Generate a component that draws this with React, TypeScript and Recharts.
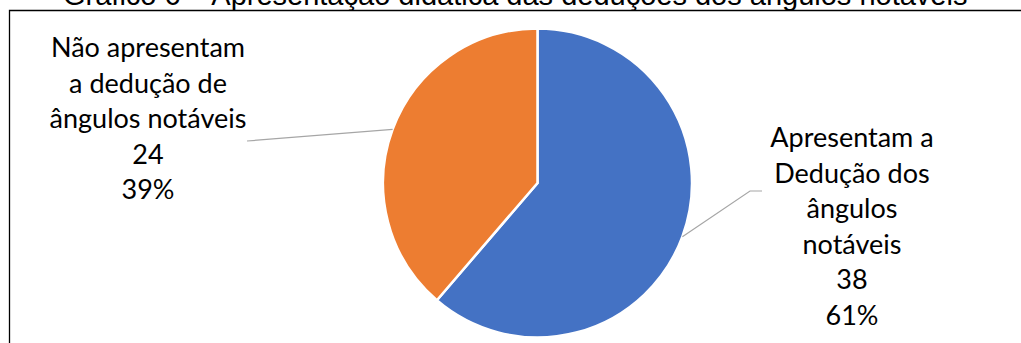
import { PieChart, Pie, Cell } from "recharts";

const categories = [
  "Apresentam a\nDedução dos\nângulos\nnotáveis",
  "Não apresentam\na dedução de\nângulos notáveis",
];
const counts = [38, 24];
const colors = ["#4472C4", "#ED7D31"];
const title = "Gráfico 6 – Apresentação didática das deduções dos ângulos notáveis";

const data = categories.map((name, i) => ({ name, value: counts[i] }));

const RAD = Math.PI / 180;
const LINE_GAP = 35.6;

// where each label block sits and where its leader line ends
const labelLayout = [
  { x: 852, y: 147, path: [[750, 191], [762, 191]] },
  { x: 148, y: 57, path: [[247, 141]] },
];

function renderLabel(props: any) {
  const { cx, cy, midAngle, outerRadius, index, name, value, percent } = props;
  const lay = labelLayout[index];
  const ex = cx + outerRadius * Math.cos(-midAngle * RAD);
  const ey = cy + outerRadius * Math.sin(-midAngle * RAD);
  const pts = [[ex, ey], ...lay.path].map((p) => p.join(",")).join(" ");
  const lines = [...String(name).split("\n"), String(value), `${Math.round(percent * 100)}%`];
  return (
    <g key={`lbl-${index}`}>
      <polyline points={pts} fill="none" stroke="#A6A6A6" strokeWidth={1.2} />
      <text textAnchor="middle" fill="#000" fontFamily="Lato, 'Open Sans', sans-serif" fontSize={27}>
        {lines.map((l, i) => (
          <tspan key={i} x={lay.x} y={lay.y + i * LINE_GAP}>
            {l}
          </tspan>
        ))}
      </text>
    </g>
  );
}

export default function App() {
  return (
    <div style={{ position: "absolute", left: 0, top: 0, width: 1021, height: 343, background: "#fff", overflow: "hidden" }}>
      <PieChart width={1021} height={343} margin={{ top: 0, right: 0, bottom: 0, left: 0 }}>
        <Pie
          data={data}
          dataKey="value"
          nameKey="name"
          cx={537.5}
          cy={183}
          outerRadius={154.5}
          startAngle={90}
          endAngle={-270}
          stroke="#fff"
          strokeWidth={2.5}
          label={renderLabel}
          labelLine={false}
          isAnimationActive={false}
        >
          {data.map((d, i) => (
            <Cell key={d.name} fill={colors[i]} />
          ))}
        </Pie>
      </PieChart>
      <svg width={1021} height={343} style={{ position: "absolute", left: 0, top: 0, pointerEvents: "none" }}>
        <text x={63} y={5} fontFamily="'Liberation Sans', Arial, sans-serif" fontSize={29} fill="#000">
          {title}
        </text>
        <polyline points="9.5,343 9.5,10.5 1021,10.5" fill="none" stroke="#000" strokeWidth={1.3} />
      </svg>
    </div>
  );
}
